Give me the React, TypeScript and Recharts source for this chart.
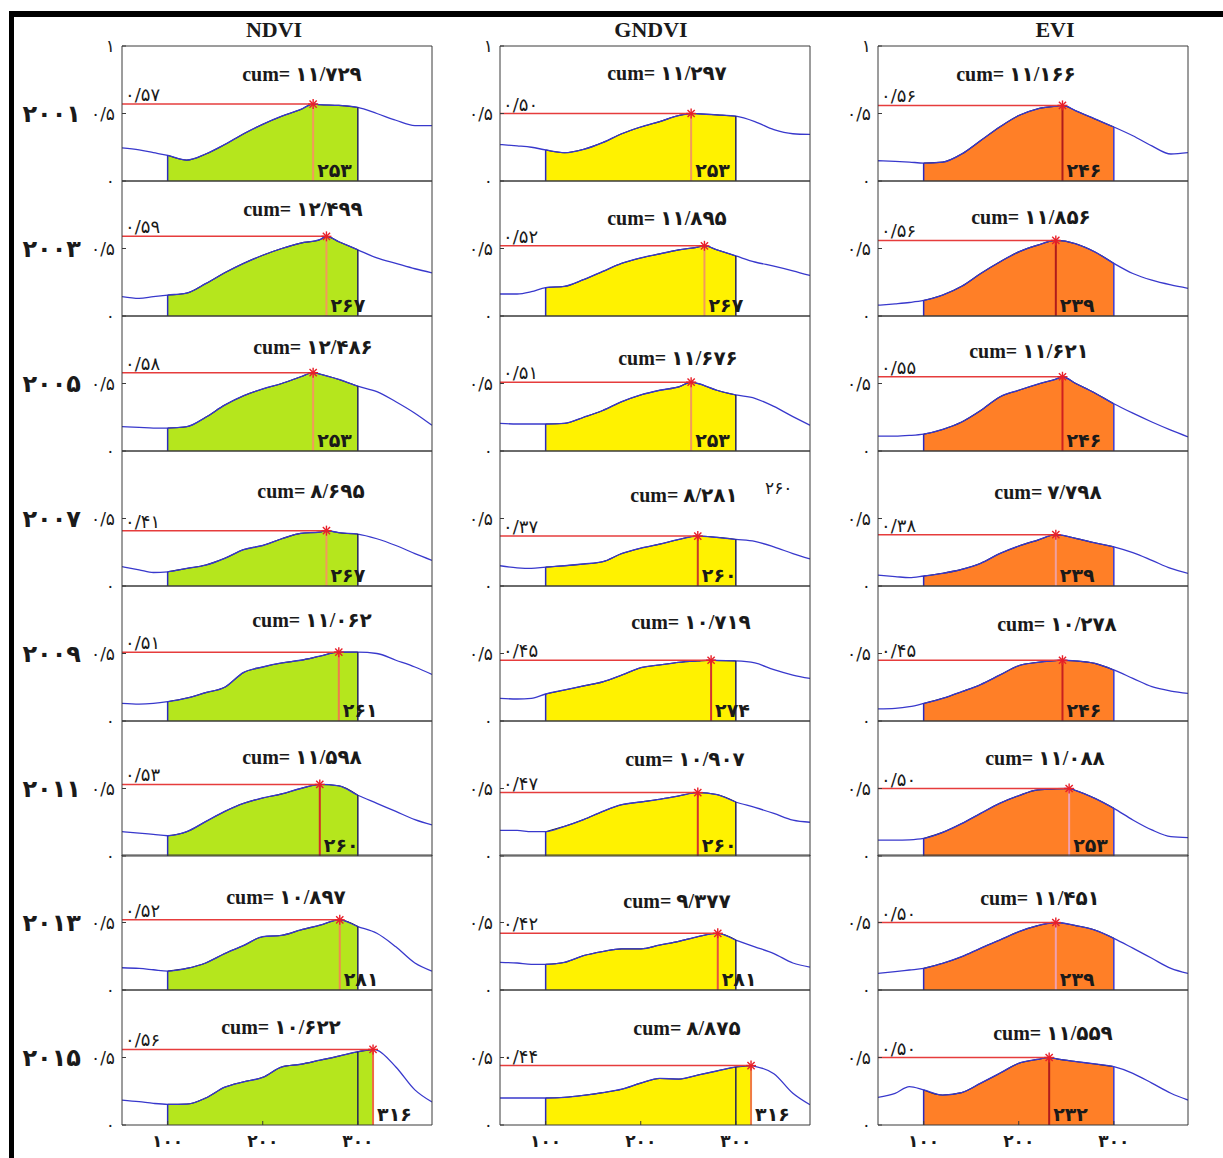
import React from 'react';
import { ComposedChart, Line, Area, XAxis, YAxis, ReferenceLine, ReferenceDot } from 'recharts';

// ---------- data ----------
const DAYS = [52, 70, 85, 100, 120, 140, 160, 180, 200, 220, 240, 260, 280, 300, 320, 340, 360, 378];
const YEARS = [2001, 2003, 2005, 2007, 2009, 2011, 2013, 2015];
const INDEX_NAMES = ['NDVI', 'GNDVI', 'EVI'];
const X_TICKS = [100, 200, 300];

const NDVI_VALUES = [
  [0.245, 0.23, 0.21, 0.19, 0.155, 0.2, 0.27, 0.35, 0.42, 0.48, 0.53, 0.565, 0.56, 0.545, 0.5, 0.45, 0.41, 0.41],
  [0.143, 0.13, 0.143, 0.155, 0.17, 0.24, 0.32, 0.39, 0.45, 0.5, 0.54, 0.565, 0.55, 0.49, 0.43, 0.39, 0.35, 0.32],
  [0.18, 0.175, 0.17, 0.17, 0.18, 0.25, 0.34, 0.41, 0.46, 0.5, 0.55, 0.57, 0.53, 0.48, 0.44, 0.365, 0.28, 0.19],
  [0.143, 0.12, 0.1, 0.105, 0.13, 0.155, 0.205, 0.27, 0.3, 0.35, 0.39, 0.4, 0.395, 0.385, 0.35, 0.3, 0.24, 0.19],
  [0.13, 0.125, 0.13, 0.143, 0.17, 0.21, 0.25, 0.36, 0.4, 0.43, 0.45, 0.48, 0.51, 0.51, 0.5, 0.45, 0.4, 0.345],
  [0.18, 0.17, 0.16, 0.15, 0.18, 0.255, 0.33, 0.39, 0.43, 0.46, 0.5, 0.525, 0.52, 0.45, 0.39, 0.33, 0.27, 0.23],
  [0.165, 0.16, 0.15, 0.14, 0.16, 0.2, 0.27, 0.33, 0.395, 0.405, 0.445, 0.48, 0.515, 0.47, 0.42, 0.32, 0.2, 0.14],
  [0.185, 0.173, 0.16, 0.153, 0.155, 0.2, 0.28, 0.32, 0.353, 0.43, 0.45, 0.48, 0.51, 0.543, 0.555, 0.43, 0.26, 0.17],
];
const NDVI_PEAK = [0.57, 0.59, 0.58, 0.41, 0.51, 0.53, 0.52, 0.56];
const NDVI_PEAK_DAY = [253, 267, 253, 267, 280, 260, 281, 316];
const NDVI_DAY_LABEL = [253, 267, 253, 267, 261, 260, 281, 316];
const NDVI_CUM = [11.729, 12.499, 12.486, 8.695, 11.062, 11.598, 10.897, 10.622];

const GNDVI_VALUES = [
  [0.27, 0.26, 0.25, 0.23, 0.21, 0.235, 0.285, 0.35, 0.4, 0.44, 0.485, 0.498, 0.49, 0.48, 0.44, 0.38, 0.35, 0.345],
  [0.163, 0.163, 0.18, 0.21, 0.22, 0.27, 0.33, 0.39, 0.43, 0.46, 0.49, 0.51, 0.49, 0.445, 0.4, 0.37, 0.335, 0.3],
  [0.205, 0.2, 0.2, 0.2, 0.205, 0.25, 0.3, 0.365, 0.415, 0.45, 0.475, 0.5, 0.45, 0.415, 0.39, 0.33, 0.255, 0.19],
  [0.15, 0.135, 0.13, 0.14, 0.15, 0.163, 0.18, 0.24, 0.28, 0.31, 0.345, 0.365, 0.36, 0.345, 0.33, 0.29, 0.24, 0.2],
  [0.168, 0.163, 0.168, 0.2, 0.23, 0.26, 0.29, 0.34, 0.395, 0.415, 0.435, 0.445, 0.448, 0.445, 0.43, 0.38, 0.34, 0.315],
  [0.19, 0.19, 0.18, 0.18, 0.22, 0.27, 0.33, 0.38, 0.4, 0.42, 0.445, 0.47, 0.455, 0.4, 0.36, 0.315, 0.265, 0.25],
  [0.205, 0.2, 0.19, 0.19, 0.205, 0.255, 0.285, 0.305, 0.305, 0.333, 0.36, 0.395, 0.415, 0.37, 0.32, 0.27, 0.2, 0.17],
  [0.2, 0.2, 0.2, 0.2, 0.205, 0.22, 0.24, 0.265, 0.31, 0.345, 0.34, 0.37, 0.4, 0.43, 0.435, 0.38, 0.235, 0.15],
];
const GNDVI_PEAK = [0.5, 0.52, 0.51, 0.37, 0.45, 0.47, 0.42, 0.44];
const GNDVI_PEAK_DAY = [253, 267, 253, 260, 274, 260, 281, 316];
const GNDVI_DAY_LABEL = [253, 267, 253, 260, 274, 260, 281, 316];
const GNDVI_CUM = [11.297, 11.895, 11.676, 8.281, 10.719, 10.907, 9.377, 8.875];

const EVI_VALUES = [
  [0.15, 0.145, 0.14, 0.133, 0.14, 0.2, 0.3, 0.4, 0.485, 0.535, 0.555, 0.52, 0.46, 0.4, 0.335, 0.26, 0.2, 0.21],
  [0.08, 0.09, 0.1, 0.115, 0.155, 0.22, 0.315, 0.4, 0.475, 0.525, 0.55, 0.535, 0.475, 0.39, 0.315, 0.265, 0.23, 0.205],
  [0.11, 0.11, 0.115, 0.125, 0.16, 0.215, 0.3, 0.4, 0.45, 0.495, 0.535, 0.5, 0.43, 0.35, 0.28, 0.215, 0.155, 0.105],
  [0.08, 0.07, 0.062, 0.074, 0.094, 0.123, 0.168, 0.24, 0.296, 0.34, 0.375, 0.353, 0.32, 0.29, 0.247, 0.19, 0.13, 0.094],
  [0.09, 0.094, 0.106, 0.13, 0.168, 0.217, 0.27, 0.34, 0.41, 0.435, 0.448, 0.445, 0.427, 0.378, 0.316, 0.254, 0.222, 0.205],
  [0.118, 0.118, 0.12, 0.13, 0.175, 0.24, 0.316, 0.39, 0.447, 0.49, 0.498, 0.485, 0.427, 0.353, 0.267, 0.193, 0.143, 0.136],
  [0.123, 0.136, 0.148, 0.16, 0.198, 0.247, 0.31, 0.37, 0.432, 0.477, 0.495, 0.477, 0.444, 0.383, 0.31, 0.235, 0.16, 0.123],
  [0.205, 0.235, 0.284, 0.26, 0.222, 0.24, 0.31, 0.383, 0.457, 0.486, 0.49, 0.47, 0.452, 0.432, 0.383, 0.31, 0.235, 0.185],
];
const EVI_PEAK = [0.56, 0.56, 0.55, 0.38, 0.45, 0.5, 0.5, 0.5];
const EVI_PEAK_DAY = [246, 239, 246, 239, 246, 253, 239, 232];
const EVI_DAY_LABEL = [246, 239, 246, 239, 246, 253, 239, 232];
const EVI_CUM = [11.166, 11.856, 11.621, 7.798, 10.278, 11.088, 11.451, 11.559];

const EXTRA_LABEL = { col: 1, row: 3, text: 260 };

const VALUES = [NDVI_VALUES, GNDVI_VALUES, EVI_VALUES];
const PEAKS = [NDVI_PEAK, GNDVI_PEAK, EVI_PEAK];
const PEAK_DAYS = [NDVI_PEAK_DAY, GNDVI_PEAK_DAY, EVI_PEAK_DAY];
const DAY_LABELS = [NDVI_DAY_LABEL, GNDVI_DAY_LABEL, EVI_DAY_LABEL];
const CUMS = [NDVI_CUM, GNDVI_CUM, EVI_CUM];

// ---------- layout / style ----------
const PLOT_LEFT = [122, 500, 878];
const PLOT_TOP = [46, 181, 316, 451, 586, 721, 855, 990];
const PLOT_W = 310;
const PLOT_H = 135;
const LEFT_SPACE = 100;
const TOP_SPACE = 40;
const X_DOMAIN = [52, 378];

const CUM_POS = [
  [[180, 28], [181, 28], [191, 31], [189, 40], [190, 34], [180, 36], [164, 42], [159, 37]],
  [[167, 27], [167, 37], [178, 42], [184, 44], [191, 36], [185, 38], [177, 46], [187, 38]],
  [[138, 28], [153, 36], [151, 35], [170, 41], [179, 38], [167, 37], [162, 43], [175, 43]],
];
const TITLE_X = [152, 151, 177];
const FILL_COLORS = ['#b5e61d', '#fff200', '#ff7f27'];
const EDGE_RIGHT = ['#22225a', '#22225a', '#3a3ad0'];
const VLINE_COLORS = [
  ['#f39a5c', '#f39a5c', '#f39a5c', '#f39a5c', '#f07a50', '#d42a2a', '#f08a50', '#f06a45'],
  ['#f39a5c', '#f39a5c', '#f39a5c', '#c83a2a', '#d43030', '#d43030', '#e85040', '#f07a45'],
  ['#b01c1c', '#b01c1c', '#d02020', '#f0a0a0', '#c82020', '#f0a0b0', '#f0a0b0', '#b01c1c'],
];
const FA = "'DejaVu Sans', sans-serif";
const SERIF = "'Liberation Serif', 'DejaVu Serif', 'DejaVu Sans', serif";
const TXT = '#1a1a1a';
const AXIS = '#3a3a3a';

const toFa = (v: number | string) =>
  String(v).replace(/[0-9]/g, (d) => '۰۱۲۳۴۵۶۷۸۹'[+d]).replace('.', '/');

function Star({ cx, cy }: any) {
  const r = 5;
  const d = r * 0.72;
  return (
    <g stroke="#e8202a" strokeWidth={1.4}>
      <line x1={cx - r} y1={cy} x2={cx + r} y2={cy} />
      <line x1={cx} y1={cy - r} x2={cx} y2={cy + r} />
      <line x1={cx - d} y1={cy - d} x2={cx + d} y2={cy + d} />
      <line x1={cx - d} y1={cy + d} x2={cx + d} y2={cy - d} />
    </g>
  );
}

function Panel({ col, row }: { col: number; row: number }) {
  const vals = VALUES[col][row];
  const peak = PEAKS[col][row];
  const peakDay = PEAK_DAYS[col][row];
  const fillEnd = Math.max(300, peakDay);
  const isLast = row === YEARS.length - 1;

  const pts = DAYS.map((d, i) => ({ day: d, v: vals[i] })).filter(
    (p) => p.day === 100 || p.day === 300 || Math.abs(p.day - peakDay) >= 4
  );
  if (!pts.some((p) => p.day === peakDay)) pts.push({ day: peakDay, v: peak });
  pts.sort((a, b) => a.day - b.day);
  const data = pts.map((p) => ({ ...p, fill: p.day >= 100 && p.day <= fillEnd ? p.v : null }));
  const v100 = pts.find((p) => p.day === 100)!.v;
  const v300 = pts.find((p) => p.day === 300)!.v;

  const bottomAxisH = isLast ? 30 : 1;
  const bottomMargin = isLast ? 10 : 10;
  const height = TOP_SPACE + PLOT_H + bottomAxisH + bottomMargin;
  const [cumX, cumY] = CUM_POS[col][row];

  return (
    <div style={{ position: 'absolute', left: PLOT_LEFT[col] - LEFT_SPACE, top: PLOT_TOP[row] - TOP_SPACE }}>
      <ComposedChart
        width={LEFT_SPACE + PLOT_W + 4}
        height={height}
        data={data}
        margin={{ top: TOP_SPACE - 1, right: 3, bottom: bottomMargin, left: 0 }}
      >
        <XAxis
          dataKey="day"
          type="number"
          domain={X_DOMAIN}
          ticks={X_TICKS}
          interval={0}
          allowDataOverflow
          height={bottomAxisH}
          tickSize={-4}
          tickMargin={isLast ? 14 : 0}
          tick={isLast ? { fill: TXT, fontSize: 17, fontFamily: FA, fontWeight: 700 } : false}
          tickFormatter={(v) => toFa(v)}
          stroke={AXIS}
        />
        <XAxis
          xAxisId="top"
          orientation="top"
          dataKey="day"
          type="number"
          domain={X_DOMAIN}
          ticks={X_TICKS}
          interval={0}
          allowDataOverflow
          height={1}
          tickSize={-4}
          tick={false}
          stroke={AXIS}
        />
        <YAxis
          type="number"
          domain={[0, 1]}
          ticks={row === 0 ? [0, 0.5, 1] : [0, 0.5]}
          interval={0}
          width={LEFT_SPACE}
          tickSize={-4}
          tickMargin={11}
          tick={{ fill: TXT, fontSize: 17, fontFamily: FA }}
          tickFormatter={(v) => toFa(v)}
          stroke={AXIS}
        />
        <YAxis
          yAxisId="right"
          orientation="right"
          type="number"
          domain={[0, 1]}
          ticks={[0.5]}
          interval={0}
          width={1}
          tickSize={-4}
          tick={false}
          stroke={AXIS}
        />
        <Line
          xAxisId="top"
          yAxisId="right"
          dataKey="v"
          stroke="none"
          dot={false}
          activeDot={false}
          isAnimationActive={false}
        />
        <Line
          dataKey="v"
          type="monotone"
          stroke="#3838cc"
          strokeWidth={1.3}
          dot={false}
          activeDot={false}
          isAnimationActive={false}
        />
        <Area
          dataKey="fill"
          type="monotone"
          fill={FILL_COLORS[col]}
          fillOpacity={1}
          stroke="#1c1c40"
          strokeWidth={1.1}
          connectNulls={false}
          dot={false}
          activeDot={false}
          isAnimationActive={false}
        />
        <ReferenceLine segment={[{ x: 100, y: 0 }, { x: 100, y: v100 }]} stroke="#2a2ac0" strokeWidth={1.5} />
        <ReferenceLine segment={[{ x: 300, y: 0 }, { x: 300, y: v300 }]} stroke={EDGE_RIGHT[col]} strokeWidth={1.5} />
        <ReferenceLine segment={[{ x: X_DOMAIN[0], y: peak }, { x: peakDay, y: peak }]} stroke="#e63c3c" strokeWidth={1.5} />
        <ReferenceLine
          segment={[{ x: peakDay, y: 0 }, { x: peakDay, y: peak }]}
          stroke={VLINE_COLORS[col][row]}
          strokeWidth={2}
        />
        <ReferenceDot x={peakDay} y={peak} ifOverflow="visible" shape={(p: any) => <Star cx={p.cx} cy={p.cy} />} />
        <ReferenceDot
          x={X_DOMAIN[0]}
          y={peak}
          ifOverflow="visible"
          shape={(p: any) => (
            <text x={p.cx + 3} y={p.cy - 3} fill={TXT} fontSize={18} fontFamily={FA}>
              {toFa(peak.toFixed(2))}
            </text>
          )}
        />
        <ReferenceDot
          x={peakDay}
          y={0}
          ifOverflow="visible"
          shape={(p: any) => (
            <text x={p.cx + 4} y={p.cy - 4} fill={TXT} fontSize={19} fontWeight={700} fontFamily={FA}>
              {toFa(DAY_LABELS[col][row])}
            </text>
          )}
        />
        <ReferenceDot
          x={X_DOMAIN[0]}
          y={1}
          ifOverflow="visible"
          shape={(p: any) => (
            <g>
              {row === 0 && (
                <text
                  x={p.cx + TITLE_X[col]}
                  y={p.cy - 9}
                  textAnchor="middle"
                  fill={TXT}
                  fontSize={22}
                  fontWeight={700}
                  fontFamily={SERIF}
                >
                  {INDEX_NAMES[col]}
                </text>
              )}
              <text
                x={p.cx + cumX}
                y={p.cy + cumY}
                textAnchor="middle"
                dominantBaseline="central"
                fill={TXT}
                fontSize={20}
                fontWeight={700}
                fontFamily={SERIF}
              >
                {'cum= ' + toFa(CUMS[col][row].toFixed(3))}
              </text>
              {EXTRA_LABEL.col === col && EXTRA_LABEL.row === row && (
                <text x={p.cx + 265} y={p.cy + 43} fill={TXT} fontSize={17} fontFamily={FA}>
                  {toFa(EXTRA_LABEL.text)}
                </text>
              )}
            </g>
          )}
        />
        {col === 0 && (
          <ReferenceDot
            x={X_DOMAIN[0]}
            y={0.5}
            ifOverflow="visible"
            shape={(p: any) => (
              <text
                x={p.cx - 41}
                y={p.cy}
                textAnchor="end"
                dominantBaseline="central"
                fill={TXT}
                fontSize={24}
                fontWeight={700}
                fontFamily={FA}
              >
                {toFa(YEARS[row])}
              </text>
            )}
          />
        )}
      </ComposedChart>
    </div>
  );
}

export default function App() {
  return (
    <div style={{ position: 'absolute', left: 0, top: 0, width: 1223, height: 1158, background: '#fff', overflow: 'hidden' }}>
      <div style={{ position: 'absolute', left: 9, top: 11, width: 1214, height: 6, background: '#000' }} />
      <div style={{ position: 'absolute', left: 9, top: 11, width: 5, height: 1147, background: '#000' }} />
      {YEARS.map((_, row) =>
        INDEX_NAMES.map((__, col) => <Panel key={`${col}-${row}`} col={col} row={row} />)
      )}
    </div>
  );
}
